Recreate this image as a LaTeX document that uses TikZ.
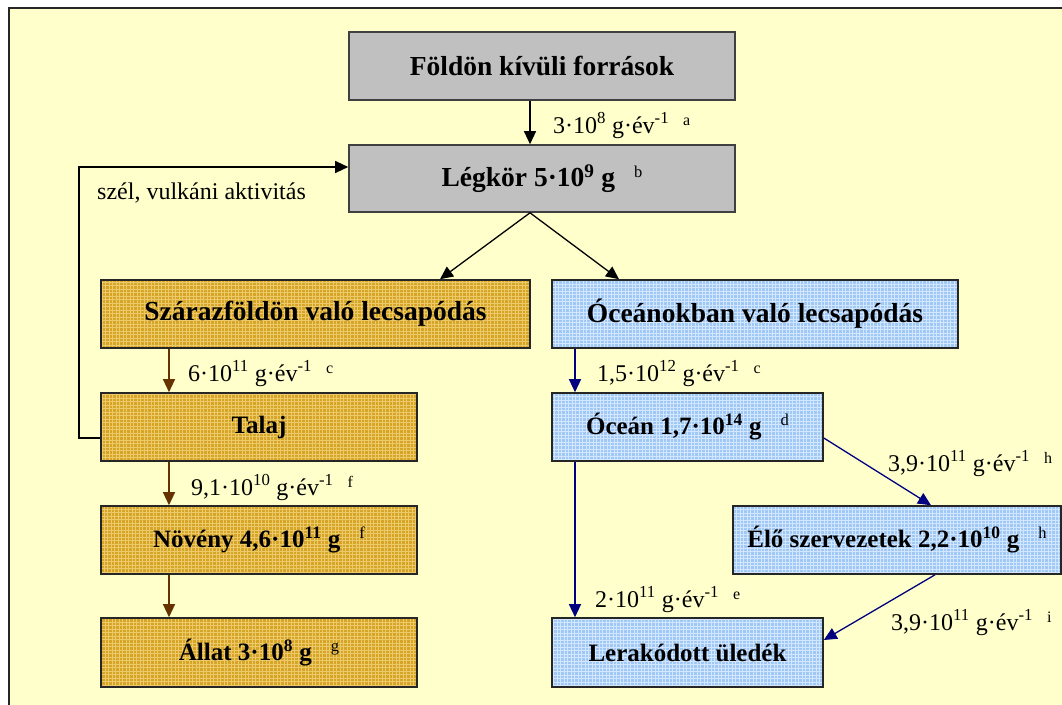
\documentclass[tikz,border=0pt]{standalone}
\usepackage{fontspec}
\setmainfont{Liberation Serif}
\usetikzlibrary{arrows.meta}
\definecolor{bgyel}{RGB}{255,255,204}
\definecolor{boxgray}{RGB}{192,192,192}
\definecolor{boxgold}{RGB}{214,164,38}
\definecolor{goldlt}{RGB}{236,202,105}
\definecolor{boxblue}{RGB}{160,200,245}
\definecolor{bluelt}{RGB}{210,230,255}
\definecolor{brn}{RGB}{102,51,0}
\definecolor{nav}{RGB}{0,0,128}
\newcommand{\sps}[1]{\textsuperscript{#1}}
\newcommand{\fnl}[1]{\hspace{14pt}\raisebox{8pt}{\fontsize{16}{16}\selectfont\mdseries #1}}
\newcommand{\fnb}[1]{\hspace{19pt}\raisebox{9pt}{\fontsize{16.5}{16}\selectfont\mdseries #1}}
\tikzset{
  texgrid/.style={path picture={\draw[#1, line width=0.9pt]
      ([xshift=-1pt,yshift=-1pt]path picture bounding box.south west) grid[step=3.5pt]
      ([xshift=1pt,yshift=1pt]path picture bounding box.north east);}},
  boxg/.style={draw=black!75, line width=1.6pt, fill=boxgray, inner sep=0pt, minimum height=68pt},
  boxo/.style={draw=black!85, line width=1.6pt, fill=boxgold, texgrid=goldlt, inner sep=0pt, minimum height=68pt},
  boxb/.style={draw=black!85, line width=1.6pt, fill=boxblue, texgrid=bluelt, inner sep=0pt, minimum height=68pt},
  bigtxt/.style={font=\bfseries\fontsize{27.5}{30}\selectfont},
  midtxt/.style={font=\bfseries\fontsize{25}{28}\selectfont},
  lbl/.style={font=\fontsize{24}{26}\selectfont, inner sep=0pt, anchor=base west},
  tip/.style={-{Triangle[length=13pt,width=12pt]}},
  arrk/.style={tip, draw=black, line width=1.3pt},
  arro/.style={tip, draw=brn, line width=1.3pt},
  arrb/.style={tip, draw=nav, line width=1.3pt},
}
\begin{document}
\begin{tikzpicture}[x=1pt,y=-1pt]
\useasboundingbox (0,0) rectangle (1062,704);
\clip (0,0) rectangle (1062,704);
\fill[white] (0,0) rectangle (1062,704);
\draw[fill=bgyel, draw=black!85, line width=1.5pt] (9,8) rectangle (1090,730);

% nodes
\node[boxg, bigtxt, minimum width=386pt] (fold) at (542,66) {Földön kívüli források};
\node[boxg, bigtxt, minimum width=386pt, minimum height=67pt] (legk) at (542,178.5) {Légkör 5·10\sps{9} g\fnb{b}};
\node[boxo, bigtxt, minimum width=429pt] (szar) at (315.5,314) {Szárazföldön való lecsapódás};
\node[boxo, midtxt, minimum width=316pt] (talaj) at (259,427) {Talaj};
\node[boxo, midtxt, minimum width=316pt] (noveny) at (259,540) {Növény 4,6·10\sps{11} g\fnb{f}};
\node[boxo, midtxt, minimum width=316pt, minimum height=69pt] (allat) at (259,652.5) {Állat 3·10\sps{8} g\fnb{g}};
\node[boxb, bigtxt, minimum width=406pt] (ocl) at (755,314) {Óceánokban való lecsapódás};
\node[boxb, midtxt, minimum width=271pt] (ocean) at (687.5,427) {Óceán 1,7·10\sps{14} g\fnb{d}};
\node[boxb, midtxt, minimum width=328pt] (elo) at (897,540) {Élő szervezetek 2,2·10\sps{10} g\fnb{h}};
\node[boxb, midtxt, minimum width=271pt, minimum height=69pt] (lerak) at (687.5,652.5) {Lerakódott üledék};

% helper coordinates
\coordinate (cA) at (530,0);
\coordinate (cS) at (440,0);
\coordinate (cO) at (619,0);
\coordinate (cB) at (169,0);
\coordinate (cN) at (575,0);
\coordinate (fb1) at (79,438);
\coordinate (fb2) at (79,167);
\coordinate (d1) at (0,438);
\coordinate (d2) at (931,0);
\coordinate (d3) at (935,0);
\coordinate (d4) at (0,640);

% connectors
\draw[arrk] (fold.south -| cA) -- (legk.north -| cA);
\draw[arrk] (legk.south -| cA) -- (szar.north -| cS);
\draw[arrk] (legk.south -| cA) -- (ocl.north -| cO);
\draw[arrk] (talaj.west |- fb1) -- (fb1) -- (fb2) -- (legk.west |- fb2);
\draw[arro] (szar.south -| cB) -- (talaj.north -| cB);
\draw[arro] (talaj.south -| cB) -- (noveny.north -| cB);
\draw[arro] (noveny.south -| cB) -- (allat.north -| cB);
\draw[arrb] (ocl.south -| cN) -- (ocean.north -| cN);
\draw[arrb] (ocean.south -| cN) -- (lerak.north -| cN);
\draw[arrb] (ocean.east |- d1) -- (elo.north -| d2);
\draw[arrb] (elo.south -| d3) -- (lerak.east |- d4);

% labels
\node[lbl] (la) at (553,133) {3·10\sps{8} g·év\sps{-1}\fnl{a}};
\node[lbl] (lwind) at (97,199) {szél, vulkáni aktivitás};
\node[lbl] (lc1) at (188,381) {6·10\sps{11} g·év\sps{-1}\fnl{c}};
\node[lbl] (lf) at (191,495) {9,1·10\sps{10} g·év\sps{-1}\fnl{f}};
\node[lbl] (lc2) at (597,381) {1,5·10\sps{12} g·év\sps{-1}\fnl{c}};
\node[lbl] (lh) at (888,471) {3,9·10\sps{11} g·év\sps{-1}\fnl{h}};
\node[lbl] (le) at (595,607) {2·10\sps{11} g·év\sps{-1}\fnl{e}};
\node[lbl] (li) at (891,630) {3,9·10\sps{11} g·év\sps{-1}\fnl{i}};
\end{tikzpicture}
\end{document}
